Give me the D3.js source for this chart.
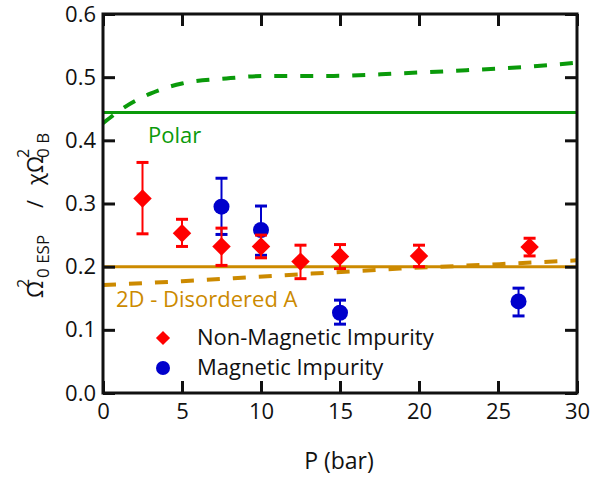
<!DOCTYPE html>
<html>
<head>
<meta charset="utf-8">
<script src="https://cdn.jsdelivr.net/npm/d3@7"></script>
<style>
  body { margin: 0; background: #fff; }
  svg text { font-family: "Open Sans", Lato, sans-serif; }
</style>
</head>
<body>
<div id="chart"></div>
<script>
// DATA
const pNonMag = [2.5, 5, 7.5, 10, 12.5, 15, 20, 27]
const vNonMag = [0.308, 0.253, 0.232, 0.232, 0.208, 0.216, 0.217, 0.231]
const hiNonMag = [0.365, 0.275, 0.261, 0.250, 0.234, 0.235, 0.234, 0.245]
const loNonMag = [0.252, 0.232, 0.202, 0.214, 0.181, 0.197, 0.200, 0.217]

const pMag = [7.5, 10, 15, 26.3]
const vMag = [0.295, 0.258, 0.127, 0.145]
const hiMag = [0.340, 0.296, 0.147, 0.166]
const loMag = [0.251, 0.218, 0.109, 0.122]

const polarLevel = 0.444
const polarCurveP = [0, 1.4, 3, 5, 7.8, 10.4, 14.6, 18.8, 23, 27.2, 30]
const polarCurveV = [0.427, 0.453, 0.474, 0.490, 0.498, 0.502, 0.502, 0.506, 0.511, 0.517, 0.523]

const disLevel = 0.2
const disCurveP = [0, 5, 10.4, 14.6, 18.8, 25.1, 30]
const disCurveV = [0.171, 0.177, 0.185, 0.191, 0.197, 0.204, 0.210]

const xTicks = [0, 5, 10, 15, 20, 25, 30]
const yTicks = [0, 0.1, 0.2, 0.3, 0.4, 0.5, 0.6]

const width = 601, height = 477
const mLeft = 103, mRight = 577, mTop = 14, mBottom = 393

const green = "#0a9a0a", gold = "#cc8a00", red = "#ff0000", blue = "#0000cc"

const xScale = d3.scaleLinear().domain([0, 30]).range([mLeft, mRight])
const yScale = d3.scaleLinear().domain([0, 0.6]).range([mBottom, mTop])

const svg = d3.select("#chart").append("svg")
  .attr("width", width)
  .attr("height", height)

// clip for lines
svg.append("clipPath").attr("id", "plotclip")
  .append("rect")
  .attr("x", mLeft).attr("y", mTop)
  .attr("width", mRight - mLeft).attr("height", mBottom - mTop)

const line = d3.line()
  .x(d => xScale(d[0]))
  .y(d => yScale(d[1]))
  .curve(d3.curveMonotoneX)

const lines = svg.append("g").attr("clip-path", "url(#plotclip)")

// flat theory levels
lines.append("path")
  .datum([[0, disLevel], [30, disLevel]])
  .attr("d", line).attr("fill", "none")
  .attr("stroke", gold).attr("stroke-width", 3)

lines.append("path")
  .datum(disCurveP.map((p, i) => [p, disCurveV[i]]))
  .attr("d", line).attr("fill", "none")
  .attr("stroke", gold).attr("stroke-width", 4)
  .attr("stroke-dasharray", "13,13")

lines.append("path")
  .datum([[0, polarLevel], [30, polarLevel]])
  .attr("d", line).attr("fill", "none")
  .attr("stroke", green).attr("stroke-width", 3)

lines.append("path")
  .datum(polarCurveP.map((p, i) => [p, polarCurveV[i]]))
  .attr("d", line).attr("fill", "none")
  .attr("stroke", green).attr("stroke-width", 4)
  .attr("stroke-dasharray", "13,13")

// AXES (ticks point inward on all four sides)
const fmt = d3.format(".1f")

svg.append("g")
  .attr("transform", `translate(0, ${mBottom})`)
  .call(d3.axisBottom(xScale).tickValues(xTicks).tickSize(-12).tickPadding(10))
  .call(g => g.select(".domain").remove())
  .attr("font-size", 22)

svg.append("g")
  .attr("transform", `translate(0, ${mTop})`)
  .call(d3.axisTop(xScale).tickValues(xTicks).tickSize(-12).tickFormat(""))
  .call(g => g.select(".domain").remove())

svg.append("g")
  .attr("transform", `translate(${mLeft}, 0)`)
  .call(d3.axisLeft(yScale).tickValues(yTicks).tickSize(-12).tickPadding(7).tickFormat(fmt))
  .call(g => g.select(".domain").remove())
  .attr("font-size", 22)

svg.append("g")
  .attr("transform", `translate(${mRight}, 0)`)
  .call(d3.axisRight(yScale).tickValues(yTicks).tickSize(-12).tickFormat(""))
  .call(g => g.select(".domain").remove())

svg.selectAll(".tick line").attr("stroke", "#111").attr("stroke-width", 3)
svg.selectAll(".tick text").attr("fill", "#111")

svg.append("rect")
  .attr("x", mLeft).attr("y", mTop)
  .attr("width", mRight - mLeft).attr("height", mBottom - mTop)
  .attr("fill", "none").attr("stroke", "#111").attr("stroke-width", 3)

// ERROR BARS + MARKERS
function drawSeries(ps, vs, his, los, color, shape) {
  const g = svg.append("g")
  const cap = 6
  ps.forEach((p, i) => {
    const x = xScale(p)
    g.append("line")
      .attr("x1", x).attr("x2", x)
      .attr("y1", yScale(his[i])).attr("y2", yScale(los[i]))
      .attr("stroke", color).attr("stroke-width", 2)
    ;[his[i], los[i]].forEach(v => {
      g.append("line")
        .attr("x1", x - cap).attr("x2", x + cap)
        .attr("y1", yScale(v)).attr("y2", yScale(v))
        .attr("stroke", color).attr("stroke-width", 3)
    })
  })
  if (shape === "diamond") {
    g.selectAll("path.m").data(ps).join("path")
      .attr("class", "m")
      .attr("d", d3.symbol().type(d3.symbolSquare).size(170))
      .attr("transform", (d, i) => `translate(${xScale(d)}, ${yScale(vs[i])}) rotate(45)`)
      .attr("fill", color)
  } else {
    g.selectAll("circle").data(ps).join("circle")
      .attr("cx", d => xScale(d))
      .attr("cy", (d, i) => yScale(vs[i]))
      .attr("r", 8)
      .attr("fill", color)
  }
}

drawSeries(pMag, vMag, hiMag, loMag, blue, "circle")
drawSeries(pNonMag, vNonMag, hiNonMag, loNonMag, red, "diamond")

// ANNOTATIONS
svg.append("text")
  .attr("x", 148).attr("y", 143)
  .attr("font-size", 22).attr("fill", green)
  .text("Polar")

svg.append("text")
  .attr("x", 116).attr("y", 307)
  .attr("font-size", 22).attr("fill", gold)
  .text("2D - Disordered A")

// LEGEND
svg.append("path")
  .attr("d", d3.symbol().type(d3.symbolSquare).size(100))
  .attr("transform", "translate(163, 338) rotate(45)")
  .attr("fill", red)
svg.append("text")
  .attr("x", 197).attr("y", 345)
  .attr("font-size", 22).attr("fill", "#111")
  .text("Non-Magnetic Impurity")

svg.append("circle")
  .attr("cx", 163).attr("cy", 368).attr("r", 7)
  .attr("fill", blue)
svg.append("text")
  .attr("x", 197).attr("y", 375)
  .attr("font-size", 22).attr("fill", "#111")
  .text("Magnetic Impurity")

// AXIS TITLES
svg.append("text")
  .attr("x", 339).attr("y", 469)
  .attr("text-anchor", "middle")
  .attr("font-size", 23).attr("fill", "#111")
  .text("P (bar)")

// y title, rotated; x here runs up the page (x = -screen y), y = screen x
const yl = svg.append("g").attr("transform", "rotate(-90)")
  .attr("fill", "#111")
yl.append("text").attr("x", -298).attr("y", 43).attr("font-size", 22).text("Ω")
yl.append("text").attr("x", -288).attr("y", 29).attr("font-size", 16).text("2")
yl.append("text").attr("x", -278).attr("y", 49).attr("font-size", 17).text("0 ESP")
yl.append("text").attr("x", -208).attr("y", 43).attr("font-size", 22).text("/")
yl.append("text").attr("x", -185).attr("y", 43).attr("font-size", 22).text("χΩ")
yl.append("text").attr("x", -158).attr("y", 29).attr("font-size", 16).text("2")
yl.append("text").attr("x", -158).attr("y", 49).attr("font-size", 17).text("0 B")
</script>
</body>
</html>
